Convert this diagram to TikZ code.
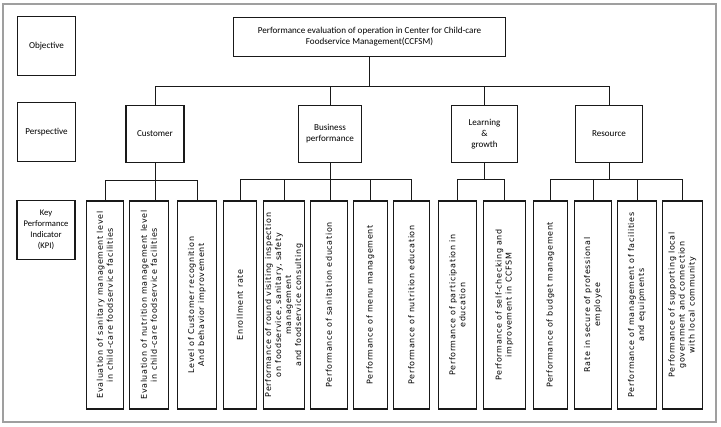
\documentclass[tikz,border=0pt]{standalone}
\usepackage{fontspec}
\newfontfamily\lblfont{Carlito}
\newfontfamily\kpifont[LetterSpace=8]{DejaVu Sans}
\begin{document}
\begin{tikzpicture}[x=1pt,y=-1pt,
  box/.style={draw=black!90, line width=1.8pt, inner sep=1pt, align=center,
    font=\lblfont\fontsize{9.1}{11}\selectfont},
  kpi/.style={draw=black!90, line width=1.8pt, inner sep=0pt, align=center,
    rotate=90, minimum width=208pt, font=\kpifont\fontsize{8}{10}\selectfont},
  conn/.style={line width=1pt, draw=black!90}]
\useasboundingbox (0,0) rectangle (721,427);
\draw[gray!75, line width=1.3pt] (3,4) rectangle (716,422);

% row labels
\node[box, minimum width=58pt, minimum height=59pt] (obj) at (46.5,46) {Objective};
\node[box, minimum width=58pt, minimum height=59pt] (persp) at (46.5,132) {Perspective};
\node[box, minimum width=58pt, minimum height=59pt, font=\lblfont\fontsize{8.6}{11}\selectfont] (kpil) at (46,230) {Key\\Performance\\Indicator\\(KPI)};

% objective
\node[box, minimum width=272pt, minimum height=39pt] (top) at (369.5,37)
  {Performance evaluation of operation in Center for Child-care\\Foodservice Management(CCFSM)};

% perspectives
\node[box, minimum width=58pt, minimum height=57pt] (cust) at (155,134) {Customer};
\node[box, minimum width=63pt, minimum height=57pt] (bus) at (330,134) {Business\\performance};
\node[box, minimum width=66pt, minimum height=57pt] (learn) at (484.5,134) {Learning\\\&\\growth};
\node[box, minimum width=67pt, minimum height=57pt] (res) at (609,134) {Resource};

% KPIs
\node[kpi, minimum height=37pt] (k1) at (105,305) {Evaluation of sanitary management level\\in child-care  foodservice  facilities};
\node[kpi, minimum height=39pt] (k2) at (149,305) {Evaluation of nutrition management level\\in child-care foodservice  facilities};
\node[kpi, minimum height=39pt] (k3) at (197,305) {Level of Customer recognition\\And behavior improvement};
\node[kpi, minimum height=33pt] (k4) at (240,305) {Enrollment rate};
\node[kpi, minimum height=41pt] (k5) at (284,305) {Performance of round visiting inspection\\on foodservice, sanitary, safety\\management\\and foodservice consulting};
\node[kpi, minimum height=37pt] (k6) at (329,305) {Performance of sanitation education};
\node[kpi, minimum height=34pt] (k7) at (370.5,305) {Performance of menu management};
\node[kpi, minimum height=36pt] (k8) at (411.5,305) {Performance of nutrition education};
\node[kpi, minimum height=38pt] (k9) at (457.5,305) {Performance  of participation in\\education};
\node[kpi, minimum height=42pt] (k10) at (504.5,305) {Performance of self-checking and\\improvement in CCFSM};
\node[kpi, minimum height=34pt] (k11) at (550.5,305) {Performance of budget management};
\node[kpi, minimum height=37pt] (k12) at (593,305) {Rate in secure of professional\\employee};
\node[kpi, minimum height=39pt] (k13) at (637,305) {Performance of management of facilities\\and equipments};
\node[kpi, minimum height=40pt] (k14) at (682.5,305) {Performance of supporting local\\government and connection\\with local community};

% top level connectors
\coordinate (th) at (369.5,87);
\draw[conn] (top.south) -- (top.south |- th);
\draw[conn] (cust.north) -- (cust.north |- th) -- (res.north |- th) -- (res.north);
\draw[conn] (bus.north) -- (bus.north |- th);
\draw[conn] (learn.north) -- (learn.north |- th);

% customer group
\coordinate (ch) at (155,181);
\draw[conn] (k1.east) -- (k1.east |- ch) -- (k3.east |- ch) -- (k3.east);
\draw[conn] (cust.south) -- (cust.south |- k2.east);

% business group
\coordinate (bh) at (330,180);
\draw[conn] (k4.east) -- (k4.east |- bh) -- (k8.east |- bh) -- (k8.east);
\draw[conn] (k5.east) -- (k5.east |- bh);
\draw[conn] (k7.east) -- (k7.east |- bh);
\draw[conn] (bus.south) -- (bus.south |- k6.east);

% learning group
\coordinate (lh) at (484.5,180);
\draw[conn] (k9.east) -- (k9.east |- lh) -- (k10.east |- lh) -- (k10.east);
\draw[conn] (learn.south) -- (learn.south |- lh);

% resource group
\coordinate (rh) at (609,180);
\draw[conn] (k11.east) -- (k11.east |- rh) -- (k14.east |- rh) -- (k14.east);
\draw[conn] (k12.east) -- (k12.east |- rh);
\draw[conn] (k13.east) -- (k13.east |- rh);
\draw[conn] (res.south) -- (res.south |- rh);
\end{tikzpicture}
\end{document}
